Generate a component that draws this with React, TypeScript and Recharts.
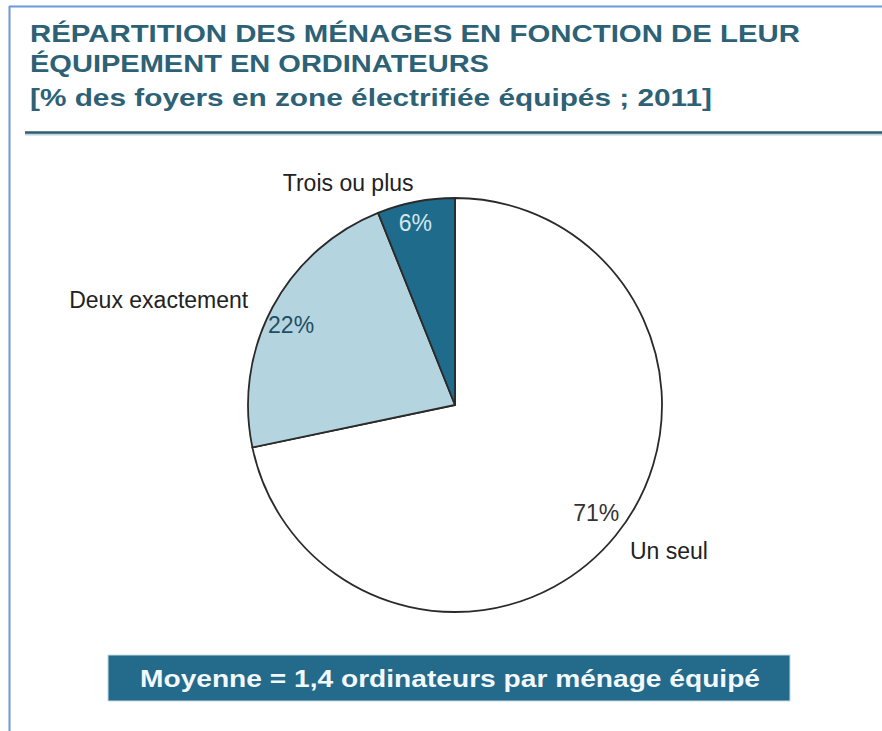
import { PieChart, Pie, Cell } from 'recharts';

const categories = ['Un seul', 'Deux exactement', 'Trois ou plus'];
const shares = [71, 22, 6];
const shareLabels = ['71%', '22%', '6%'];

const titleLines = [
  'RÉPARTITION DES MÉNAGES EN FONCTION DE LEUR',
  'ÉQUIPEMENT EN ORDINATEURS',
  '[% des foyers en zone électrifiée équipés ; 2011]',
];
const footnote = 'Moyenne = 1,4 ordinateurs par ménage équipé';

const sliceColors = ['#ffffff', '#b4d4df', '#1f6b8c'];
const pctColors = ['#333333', '#1f4e63', '#d2e7ef'];

// label placement relative to each slice's mid angle
const nameLayout = [
  { da: -0.7, r: 1.1, anchor: 'start' },
  { da: 1.3, r: 1.12, anchor: 'end' },
  { da: 14.8, r: 1.19, anchor: 'middle' },
];
const pctLayout = [
  { da: 1.6, r: 0.86 },
  { da: 2.3, r: 0.88 },
  { da: 1.4, r: 0.9 },
];

const data = categories.map((name, i) => ({ name, value: shares[i], label: shareLabels[i] }));

const RAD = Math.PI / 180;
const FONT = '"Liberation Sans", Arial, sans-serif';

function renderLabel(props: any) {
  const { cx, cy, midAngle, outerRadius, index } = props;
  const n = nameLayout[index];
  const p = pctLayout[index];
  const na = (midAngle + n.da) * RAD;
  const pa = (midAngle + p.da) * RAD;
  const nx = cx + outerRadius * n.r * Math.cos(-na);
  const ny = cy + outerRadius * n.r * Math.sin(-na);
  const px = cx + outerRadius * p.r * Math.cos(-pa);
  const py = cy + outerRadius * p.r * Math.sin(-pa);
  return (
    <g>
      <text x={nx} y={ny} textAnchor={n.anchor} dominantBaseline="central" fill="#222" fontSize={23} fontFamily={FONT}>
        {data[index].name}
      </text>
      <text x={px} y={py} textAnchor="middle" dominantBaseline="central" fill={pctColors[index]} fontSize={23} fontFamily={FONT}>
        {data[index].label}
      </text>
    </g>
  );
}

export default function App() {
  return (
    <div style={{ position: 'absolute', left: 0, top: 0, width: 882, height: 731, background: '#fff', overflow: 'hidden' }}>
      <svg width={882} height={731} style={{ position: 'absolute', left: 0, top: 0 }}>
        {/* frame */}
        <line x1={9.5} y1={6} x2={9.5} y2={731} stroke="#6b9ad8" strokeWidth={2} />
        <line x1={9} y1={6.5} x2={882} y2={6.5} stroke="#6b9ad8" strokeWidth={2} />
        {/* title */}
        <g fill="#2c6176" fontFamily={FONT} fontWeight="bold" fontSize={23}>
          <text x={30} y={42} textLength={770} lengthAdjust="spacingAndGlyphs">{titleLines[0]}</text>
          <text x={30} y={72} textLength={459} lengthAdjust="spacingAndGlyphs">{titleLines[1]}</text>
          <text x={30} y={106} textLength={682} lengthAdjust="spacingAndGlyphs">{titleLines[2]}</text>
        </g>
        <line x1={25} y1={134.5} x2={882} y2={134.5} stroke="#b9d3de" strokeWidth={2} />
        <line x1={25} y1={132.5} x2={882} y2={132.5} stroke="#2f5c70" strokeWidth={2.5} />
        {/* footnote box */}
        <rect x={108} y={655} width={682} height={46} fill="#236a8b" stroke="#c6dce5" strokeWidth={1} />
        <text x={450} y={687} textAnchor="middle" fill="#f2f8fb" fontFamily={FONT} fontWeight="bold" fontSize={23} textLength={620} lengthAdjust="spacingAndGlyphs">
          {footnote}
        </text>
      </svg>
      <div style={{ position: 'absolute', left: 0, top: 0 }}>
        <PieChart width={882} height={731} margin={{ top: 0, right: 0, bottom: 0, left: 0 }}>
          <Pie
            data={data}
            dataKey="value"
            nameKey="name"
            cx={455}
            cy={405}
            outerRadius={207}
            startAngle={90}
            endAngle={-270}
            stroke="#2a2a2a"
            strokeWidth={1.8}
            label={renderLabel}
            labelLine={false}
            isAnimationActive={false}
          >
            {data.map((d, i) => (
              <Cell key={d.name} fill={sliceColors[i]} />
            ))}
          </Pie>
        </PieChart>
      </div>
    </div>
  );
}
